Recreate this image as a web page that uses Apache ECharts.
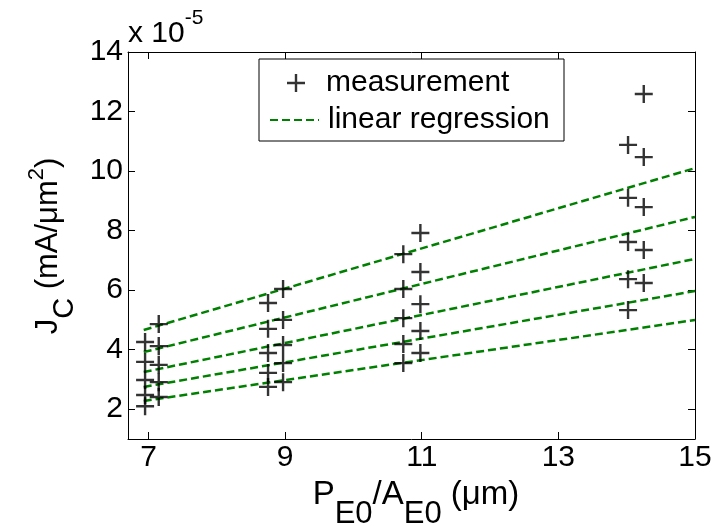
<!DOCTYPE html>
<html><head><meta charset="utf-8">
<script src="https://cdn.jsdelivr.net/npm/echarts@6/dist/echarts.min.js"></script>
<style>html,body{margin:0;padding:0;background:#fff}#c{width:724px;height:526px}</style>
</head><body><div id="c"></div>
<script>
// Data (y values in units of 1e-5 mA/um^2)
const measX = [6.95, 7.15, 8.75, 8.97, 10.73, 10.98, 14.02, 14.25];
const measY = [
  [4.26, 3.59, 2.98, 2.48, 2.10],
  [4.86, 4.12, 3.49, 2.91, 2.41],
  [5.57, 4.70, 3.89, 3.22, 2.75],
  [6.04, 5.00, 4.16, 3.55, 2.91],
  [7.21, 6.04, 5.06, 4.19, 3.55],
  [7.92, 6.61, 5.53, 4.63, 3.89],
  [10.88, 9.10, 7.62, 6.37, 5.33],
  [12.59, 10.47, 8.79, 7.35, 6.24]
];
const regX = [6.93, 15];
const regStart = [4.66, 3.92, 3.25, 2.75, 2.28];
const regEnd = [10.1, 8.46, 7.05, 5.97, 5.0];
const xTicks = [7, 9, 11, 13, 15];
const yTicks = [2, 4, 6, 8, 10, 12, 14];
const scaleText = 'x 10';
const scaleExp = '-5';
const xTitle = '{m|P}{s|E0}{m|/A}{s|E0}{m| (μm)}';
const yTitle = '{m|J}{s|C}{m| (mA/μm}{p|2}{m|)}';
const seriesNames = ['measurement', 'linear regression'];

const FONT = 'Liberation Sans, Arial, sans-serif';
const FS = 30;
const plus = 'path://M0,7.8H18V10.2H0Z M7.8,0H10.2V18H7.8Z';

const scatterData = [];
measX.forEach((x, i) => measY[i].forEach(y => scatterData.push([x, y])));

const series = [{
  name: seriesNames[0], type: 'scatter', data: scatterData,
  symbol: plus, symbolSize: 18, itemStyle: {color: '#000'}, z: 3,
  xAxisIndex: 0, yAxisIndex: 0, silent: true
}];
regStart.forEach((s, i) => series.push({
  name: seriesNames[1], type: 'line', data: [[regX[0], s], [regX[1], regEnd[i]]],
  symbol: 'none', lineStyle: {color: '#008000', width: 2.5, type: [8, 4]},
  itemStyle: {color: '#008000'}, xAxisIndex: 0, yAxisIndex: 0, silent: true, z: 2
}));

// symmetric rich tokens: shift = +d moves down, -d moves up
function tok(fs, shift) {
  const d = shift || 0;
  return {fontSize: fs, lineHeight: fs, fontFamily: FONT, color: '#000',
    padding: d > 0 ? [2 * d, 0, 0, 0] : [0, 0, -2 * d, 0]};
}

const axisCommon = {
  type: 'value',
  axisLine: {show: true, lineStyle: {color: '#000', width: 1}},
  splitLine: {show: false}
};

const chart = echarts.init(document.getElementById('c'), null, {renderer: 'canvas'});
chart.setOption({
  animation: false,
  backgroundColor: '#fff',
  grid: {left: 128, top: 52, right: 29, bottom: 87, outerBoundsMode: 'none', containLabel: false},
  xAxis: [
    Object.assign({}, axisCommon, {
      position: 'bottom', min: 6.7, max: 15,
      axisTick: {show: true, inside: true, length: 7, lineStyle: {color: '#000'}, customValues: xTicks},
      axisLabel: {show: true, customValues: xTicks, fontSize: FS, fontFamily: FONT, color: '#000', margin: 4}
    }),
    Object.assign({}, axisCommon, {
      position: 'top', min: 6.7, max: 15,
      axisTick: {show: true, inside: true, length: 7, lineStyle: {color: '#000'}, customValues: xTicks},
      axisLabel: {show: false}
    })
  ],
  yAxis: [
    Object.assign({}, axisCommon, {
      position: 'left', min: 1, max: 14,
      axisTick: {show: true, inside: true, length: 7, lineStyle: {color: '#000'}, customValues: yTicks},
      axisLabel: {show: true, customValues: yTicks, fontSize: FS, fontFamily: FONT, color: '#000', margin: 5}
    }),
    Object.assign({}, axisCommon, {
      position: 'right', min: 1, max: 14,
      axisTick: {show: true, inside: true, length: 7, lineStyle: {color: '#000'}, customValues: yTicks},
      axisLabel: {show: false}
    })
  ],
  legend: [
    {
      data: [seriesNames[0]], orient: 'vertical', left: 287, top: 68, padding: 0,
      itemWidth: 18, itemHeight: 18, selectedMode: false,
      textStyle: {fontSize: FS, fontFamily: FONT, color: '#000', padding: [0, 0, 0, 16]}
    },
    {
      data: [seriesNames[1]], orient: 'vertical', left: 269, top: 105, padding: 0,
      itemWidth: 49, itemHeight: 14, selectedMode: false,
      itemStyle: {color: 'rgba(0,0,0,0)', borderColor: 'rgba(0,0,0,0)', borderWidth: 0},
      textStyle: {fontSize: FS, fontFamily: FONT, color: '#000', padding: [0, 0, 0, 4]}
    }
  ],
  graphic: [
    {type: 'rect', shape: {x: 259, y: 59, width: 305, height: 82}, style: {fill: '#fff', stroke: '#000', lineWidth: 1}, z: 3, silent: true},
    {type: 'text', x: 128, y: 34, silent: true,
      style: {text: '{m|' + scaleText + '}{p|' + scaleExp + '}', align: 'left', verticalAlign: 'middle',
        rich: {m: tok(30, 0), p: tok(21, -16)}}},
    {type: 'text', x: 416, y: 495, silent: true,
      style: {text: xTitle, align: 'center', verticalAlign: 'middle',
        rich: {m: tok(33, 0), s: tok(31, 19)}}},
    {type: 'text', x: 48, y: 246, rotation: Math.PI / 2, silent: true,
      style: {text: yTitle, align: 'center', verticalAlign: 'middle',
        rich: {m: tok(31, 0), s: tok(29, 17), p: tok(22, -11)}}}
  ],
  series: series
});
</script>
</body></html>
